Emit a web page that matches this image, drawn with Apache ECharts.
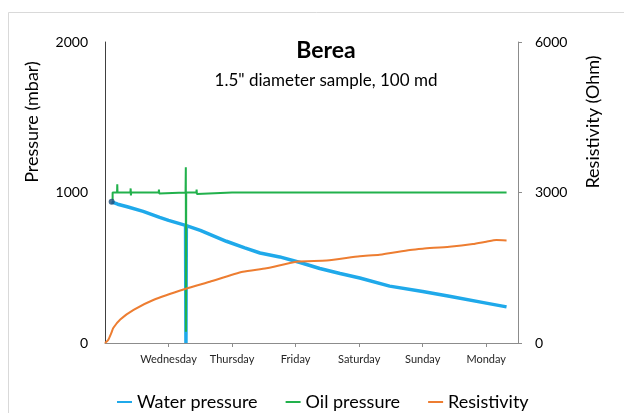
<!DOCTYPE html>
<html>
<head>
<meta charset="utf-8">
<script src="https://cdn.jsdelivr.net/npm/echarts@6/dist/echarts.min.js"></script>
<style>
html,body{margin:0;padding:0;background:#fff;}
#chart{width:624px;height:413px;}
</style>
</head>
<body>
<div id="chart"></div>
<script>
// ---- data ----
var dayNames = ['', 'Wednesday', 'Thursday', 'Friday', 'Saturday', 'Sunday', 'Monday'];
var dayTicks = [1, 2, 3, 4, 5, 6];
var pressureTicks = [0, 1000, 2000];
var resistivityTicks = [0, 3000, 6000];
var seriesNames = ['Water pressure', 'Oil pressure', 'Resistivity'];

var waterPressure = [
  [0.105, 938], [0.2, 922], [0.35, 905], [0.6, 875], [0.86, 835], [1.0, 815],
  [1.268, 782], [1.274, 0], [1.28, 780], [1.5, 748], [1.91, 676], [2.2, 632],
  [2.44, 598], [2.75, 572], [3.07, 535], [3.38, 495], [3.7, 462], [4.01, 432],
  [4.48, 378], [5.0, 342], [5.42, 310], [6.0, 265], [6.32, 240]
];
var waterStart = [[0.105, 938]];

var oilPressure = [
  [0.12, 950], [0.12, 1000], [0.19, 1000], [0.193, 1055], [0.197, 1000],
  [0.40, 1000], [0.404, 1027], [0.408, 980], [0.412, 1000],
  [0.845, 1000], [0.849, 1020], [0.853, 993], [0.857, 1000],
  [1.268, 1000], [1.272, 1167], [1.274, 75], [1.278, 1000],
  [1.438, 1000], [1.442, 1020], [1.446, 990], [1.45, 1000],
  [2.0, 1000], [2.004, 1010], [2.008, 1000],
  [3.0, 1000], [3.004, 990], [3.008, 1000],
  [4.1, 1000], [4.104, 1010], [4.108, 1000],
  [5.0, 1000], [5.004, 992], [5.008, 1000],
  [6.32, 1000]
];

var resistivity = [
  [0, 0], [0.05, 60], [0.1, 200], [0.13, 300], [0.24, 470], [0.45, 660],
  [0.76, 857], [1.26, 1076], [1.65, 1222], [2.17, 1421], [2.54, 1488],
  [3.01, 1621], [3.49, 1645], [4.01, 1730], [4.32, 1760], [4.8, 1854],
  [5.0, 1880], [5.42, 1920], [5.79, 1973], [6.0, 2020], [6.16, 2053], [6.32, 2045]
];

var colors = { water: '#1fa9ea', oil: '#22b14c', res: '#ed7d31' };
var FONT = 'Lato';
function plain(v) { return String(Math.round(v)); }

var chart = echarts.init(document.getElementById('chart'), null, { renderer: 'canvas' });
chart.setOption({
  backgroundColor: '#ffffff',
  animation: false,
  textStyle: { fontFamily: FONT },
  title: [
    { text: 'Berea', left: 321, top: 34, textAlign: 'center',
      textStyle: { fontFamily: FONT, fontSize: 23, fontWeight: 'bold', color: '#000' } },
    { text: '1.5" diameter sample, 100 md', left: 321, top: 67, textAlign: 'center',
      textStyle: { fontFamily: FONT, fontSize: 17, fontWeight: 'normal', color: '#000' } }
  ],
  graphic: [
    { type: 'rect', z: -10, silent: true,
      shape: { x: 8.5, y: 12.5, width: 700, height: 500 },
      style: { fill: 'none', stroke: '#d9d9d9', lineWidth: 1 } },
    { type: 'text', x: 32, y: 122, rotation: Math.PI / 2,
      style: { text: 'Pressure (mbar)', font: '18px Lato', fill: '#000', align: 'center', verticalAlign: 'middle' } },
    { type: 'text', x: 593, y: 122, rotation: Math.PI / 2,
      style: { text: 'Resistivity (Ohm)', font: '18px Lato', fill: '#000', align: 'center', verticalAlign: 'middle' } }
  ],
  legend: {
    data: seriesNames,
    left: 112, top: 388,
    icon: 'rect', itemWidth: 15, itemHeight: 2, itemGap: 28,
    textStyle: { fontFamily: FONT, fontSize: 18, color: '#000' }
  },
  grid: { left: 105, right: 106, top: 42, bottom: 70 },
  xAxis: {
    type: 'value', min: 0, max: 6.5, interval: 1,
    axisLine: { show: true, lineStyle: { color: '#8c8c8c', width: 1 } },
    axisTick: { show: true, inside: false, length: 4, customValues: dayTicks, lineStyle: { color: '#8c8c8c' } },
    axisLabel: { customValues: dayTicks, margin: 11, fontFamily: FONT, fontSize: 11, color: '#262626',
      formatter: function (v) { return dayNames[Math.round(v)] || ''; } },
    splitLine: { show: false }
  },
  yAxis: [
    { type: 'value', min: 0, max: 2000, interval: 1000, position: 'left',
      axisLine: { show: true, lineStyle: { color: '#404040', width: 1 } },
      axisTick: { show: false },
      axisLabel: { customValues: pressureTicks, margin: 17, fontFamily: FONT, fontSize: 14, color: '#000', formatter: plain },
      splitLine: { show: false } },
    { type: 'value', min: 0, max: 6000, interval: 3000, position: 'right',
      axisLine: { show: true, lineStyle: { color: '#8c8c8c', width: 1 } },
      axisTick: { show: true, inside: false, length: 4, lineStyle: { color: '#8c8c8c' } },
      axisLabel: { customValues: resistivityTicks, margin: 17, fontFamily: FONT, fontSize: 14, color: '#000', formatter: plain },
      splitLine: { show: false } }
  ],
  series: [
    { name: seriesNames[0], type: 'line', yAxisIndex: 0, data: waterPressure, showSymbol: false,
      color: colors.water, lineStyle: { width: 3.5, color: colors.water } },
    { name: seriesNames[1], type: 'line', yAxisIndex: 0, data: oilPressure, showSymbol: false,
      color: colors.oil, lineStyle: { width: 2, color: colors.oil } },
    { name: seriesNames[2], type: 'line', yAxisIndex: 1, data: resistivity, showSymbol: false, smooth: 0.2,
      color: colors.res, lineStyle: { width: 2, color: colors.res } },
    { name: 'start', type: 'scatter', yAxisIndex: 0, data: waterStart, symbolSize: 6,
      itemStyle: { color: '#1f4e79' }, z: 5 }
  ]
});
</script>
</body>
</html>
